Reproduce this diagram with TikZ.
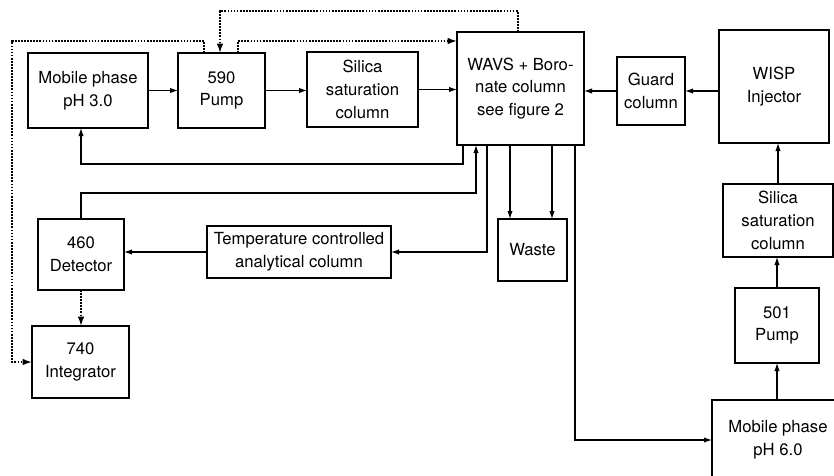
\documentclass[tikz,border=0pt]{standalone}
\usepackage{fontspec}
\setmainfont{TeX Gyre Heros}
\usetikzlibrary{arrows.meta, positioning}
\tikzset{
  unit/.style 2 args={draw, line width=0.8pt, align=center, inner sep=0pt, outer sep=0pt,
    minimum width=#1*0.75pt, minimum height=#2*0.75pt, font=\fontsize{12.5}{17}\selectfont},
  flow/.style={draw, line width=0.8pt, -{Latex[length=6pt, width=4pt]}},
  signal/.style={draw, line width=1.3pt, densely dotted, -{Latex[length=7pt, width=5pt]}}
}

\begin{document}
\begin{tikzpicture}[x=0.75pt, y=-0.75pt]
  \useasboundingbox (0,0) rectangle (834,475);
  \clip (0,0) rectangle (834,475);
  \node[unit={120}{75}] (mp3) at (88,90.5) {Mobile phase\\pH 3.0};
  \node[unit={87}{75}] (pump590) at (221.5,90.5) {590\\Pump};
  \node[unit={111}{75}] (sil1) at (362.5,89.5) {Silica\\saturation\\column};
  \node[unit={127}{113}] (wavs) at (520.5,88.5) {WAVS + Boro-\\nate column\\see figure 2};
  \node[unit={68}{68}] (guard) at (651,91) {Guard\\column};
  \node[unit={110}{113}] (wisp) at (774,86.5) {WISP\\Injector};
  \node[unit={110}{73}] (sil2) at (778,220.5) {Silica\\saturation\\column};
  \node[unit={84}{75}] (pump501) at (777,325.5) {501\\Pump};
  \node[unit={132}{80}] (mp6) at (778,440) {Mobile phase\\pH 6.0};
  \node[unit={69}{62}] (waste) at (532.5,250) {Waste};
  \node[unit={184}{52}] (temp) at (299,252) {Temperature controlled\\analytical column};
  \node[unit={86}{71}] (det) at (81,254.5) {460\\Detector};
  \node[unit={97}{72}] (int) at (80.5,362) {740\\Integrator};

  \path (wavs.south west) ++(6,0) coordinate (retA) ++(13,0) coordinate (fromDet)
    ++(11,0) coordinate (toTemp) ++(23,0) coordinate (toWasteA)
    ++(42,0) coordinate (toWasteB) ++(23,0) coordinate (toMp6);
  \path (wavs.north west) ++(61,0) coordinate (wavsTop);
  \path (wavs.north west) ++(0,9) coordinate (wavsIn);
  \path (pump590.north west) ++(26,0) coordinate (pumpA) ++(16,0) coordinate (pumpB)
    ++(18,0) coordinate (pumpC);

  \draw[flow] (mp3) -- (pump590);
  \draw[flow] (pump590.east) -- (pump590.east -| sil1.west);
  \draw[flow] (sil1.east) -- (sil1.east -| wavs.west);
  \draw[flow] (wisp.west |- guard.east) -- (guard.east);
  \draw[flow] (guard.west) -- (guard.west -| wavs.east);
  \draw[flow] (sil2.north) -- (sil2.north |- wisp.south);
  \draw[flow] (pump501.north) -- (pump501.north |- sil2.south);
  \draw[flow] (pump501.south |- mp6.north) -- (pump501.south);
  \draw[flow] (retA) -- ++(0,19) -| (det.north |- mp3.south);
  \draw[flow] (det.north) -- ++(0,-26) -| (fromDet);
  \draw[flow] (toTemp) |- (temp.east);
  \draw[flow] (temp.west) -- (temp.west -| det.east);
  \draw[flow] (toWasteA) -- (toWasteA |- waste.north);
  \draw[flow] (toWasteB) -- (toWasteB |- waste.north);
  \draw[flow] (toMp6) |- (mp6.west);

  \draw[signal] (det.south) -- (det.south |- int.north);
  \draw[signal] (pumpA) -- ++(0,-12) -- ++(-192,0) |- (int.west);
  \draw[signal] (wavsTop) -- ++(0,-21) -| (pumpB);
  \draw[signal] (pumpC) |- (wavsIn);
\end{tikzpicture}
\end{document}
